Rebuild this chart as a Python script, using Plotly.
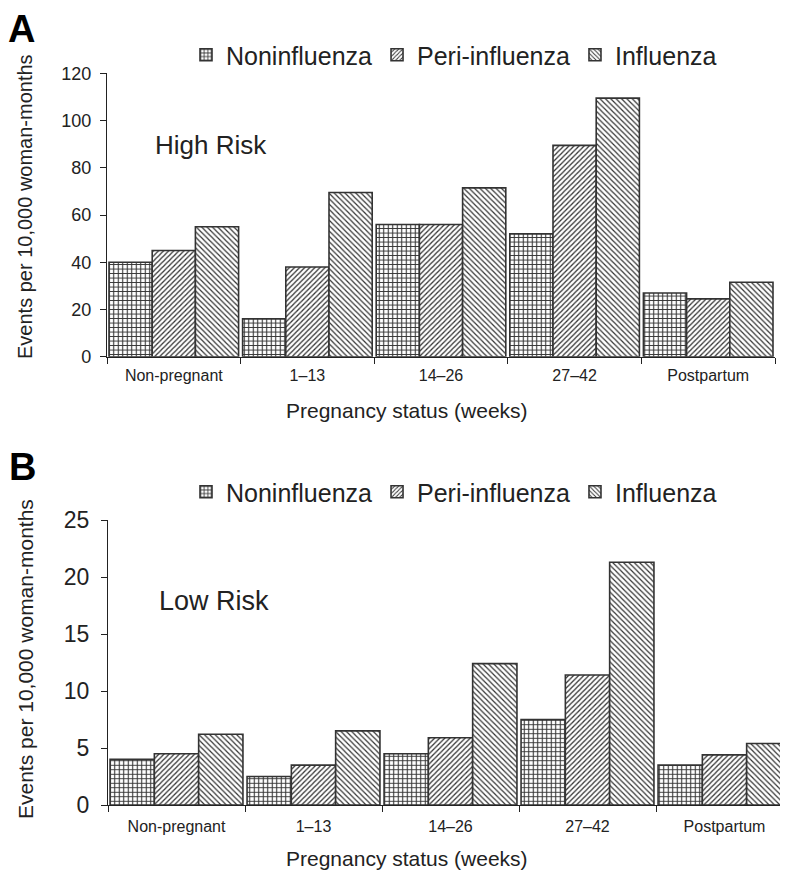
import plotly.graph_objects as go

categories = ["Non-pregnant", "1\u201313", "14\u201326", "27\u201342", "Postpartum"]
series_names = ["Noninfluenza", "Peri-influenza", "Influenza"]

high_noninfluenza = [40, 16, 56, 52, 27]
high_peri_influenza = [45, 38, 56, 89.5, 24.5]
high_influenza = [55, 69.5, 71.5, 109.5, 31.5]

low_noninfluenza = [4, 2.5, 4.5, 7.5, 3.5]
low_peri_influenza = [4.5, 3.5, 5.9, 11.4, 4.4]
low_influenza = [6.2, 6.5, 12.4, 21.3, 5.4]

y_ticks_high = [0, 20, 40, 60, 80, 100, 120]
y_ticks_low = [0, 5, 10, 15, 20, 25]

W, H = 788, 871
OFF = 8  # the page body margin offsets the figure in the window
FONT = "Liberation Sans, Arial, sans-serif"
INK = "#333333"
TXT = "#222222"

patterns = [
    dict(shape="+", size=4.5, solidity=0.42, fgcolor=INK, bgcolor="white"),
    dict(shape="/", size=3.6, solidity=0.35, fgcolor=INK, bgcolor="white"),
    dict(shape="\\", size=3.8, solidity=0.32, fgcolor=INK, bgcolor="white"),
]

fig = go.Figure()

for name, vals, pat in zip(series_names,
                           [high_noninfluenza, high_peri_influenza, high_influenza],
                           patterns):
    fig.add_trace(go.Bar(
        x=categories, y=vals, name=name, xaxis="x", yaxis="y", legend="legend",
        marker=dict(color="white", pattern=pat, line=dict(color=INK, width=1.6)),
    ))

for name, vals, pat in zip(series_names,
                           [low_noninfluenza, low_peri_influenza, low_influenza],
                           patterns):
    fig.add_trace(go.Bar(
        x=categories, y=vals, name=name, xaxis="x2", yaxis="y2", legend="legend2",
        marker=dict(color="white", pattern=pat, line=dict(color=INK, width=1.6)),
    ))

def px_x(p):
    return (p - OFF) / W

def px_y(p):
    return 1 - (p - OFF) / H

xcommon = dict(type="category", showline=True, linecolor="#222", linewidth=1.3,
               ticks="outside", tickson="boundaries", ticklen=6, tickcolor="#222",
               tickwidth=1.3, showgrid=False, zeroline=False, automargin=False,
               tickfont=dict(family=FONT, size=16, color=TXT))
ycommon = dict(showline=True, linecolor="#222", linewidth=1.3, ticks="outside",
               ticklen=6, tickcolor="#222", tickwidth=1.3, showgrid=False,
               zeroline=False, automargin=False)

legend_common = dict(orientation="h", xanchor="left", yanchor="middle",
                     font=dict(family=FONT, size=25, color=TXT),
                     bgcolor="rgba(0,0,0,0)", borderwidth=0, itemclick=False,
                     traceorder="normal")

fig.update_layout(
    template="none",
    width=W, height=H,
    margin=dict(l=0, r=0, t=0, b=0, pad=0, autoexpand=False),
    paper_bgcolor="white", plot_bgcolor="white",
    barmode="group", bargap=0.03, bargroupgap=0,
    font=dict(family=FONT, color=TXT),
    xaxis=dict(domain=[px_x(107), px_x(775)], anchor="y", range=[-0.5, 4.5],
               ticklabelstandoff=4, **xcommon),
    yaxis=dict(domain=[px_y(356.7), px_y(73.3)], anchor="x", range=[0, 120],
               tickvals=y_ticks_high, tickfont=dict(family=FONT, size=18, color=TXT),
               ticklabelstandoff=5, **ycommon),
    xaxis2=dict(domain=[px_x(108), px_x(793)], anchor="y2", range=[-0.5, 4.5],
                ticklabelstandoff=7, **xcommon),
    yaxis2=dict(domain=[px_y(805), px_y(520)], anchor="x2", range=[0, 25],
                tickvals=y_ticks_low, tickfont=dict(family=FONT, size=23, color=TXT),
                ticklabelstandoff=7, **ycommon),
    legend=dict(x=px_x(186), y=px_y(55), **legend_common),
    legend2=dict(x=px_x(186), y=px_y(492), **legend_common),
    showlegend=True,
)

annotations = [
    dict(text="<b>A</b>", x=px_x(21), y=px_y(29), font=dict(size=38, color="#000")),
    dict(text="<b>B</b>", x=px_x(22), y=px_y(467), font=dict(size=38, color="#000")),
    dict(text="High Risk", x=px_x(153), y=px_y(145), xanchor="left", font=dict(size=26)),
    dict(text="Low Risk", x=px_x(157), y=px_y(601), xanchor="left", font=dict(size=27)),
    dict(text="Events per 10,000 woman-months", x=px_x(25), y=px_y(207),
         textangle=-90, font=dict(size=20)),
    dict(text="Events per 10,000 woman-months", x=px_x(25), y=px_y(659),
         textangle=-90, font=dict(size=21)),
    dict(text="Pregnancy status (weeks)", x=px_x(407), y=px_y(410), font=dict(size=21)),
    dict(text="Pregnancy status (weeks)", x=px_x(407), y=px_y(858), font=dict(size=21)),
]
for a in annotations:
    a.setdefault("xanchor", "center")
    a["yanchor"] = "middle"
    a["xref"] = "paper"
    a["yref"] = "paper"
    a["showarrow"] = False
    a["font"] = dict(family=FONT, color=a["font"].get("color", TXT), size=a["font"]["size"])
fig.update_layout(annotations=annotations)

fig.write_html("out.html")
